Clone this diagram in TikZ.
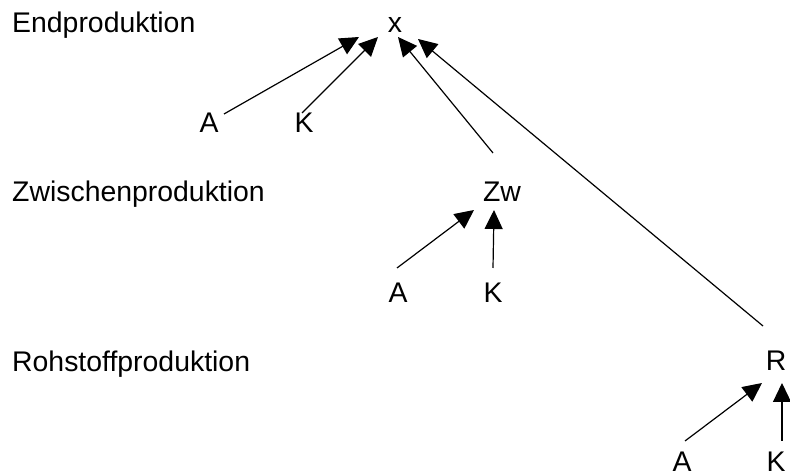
\documentclass[tikz,border=0pt]{standalone}
\usepackage{fontspec}
\setmainfont{Liberation Sans}
\usetikzlibrary{arrows.meta}
\begin{document}
\begin{tikzpicture}[x=1pt,y=1pt,
  lbl/.style={anchor=base,inner sep=0pt,font=\fontsize{28.4}{34}\selectfont},
  lvl/.style={anchor=base west,inner sep=0pt,font=\fontsize{28.4}{34}\selectfont},
  arr/.style={line width=1.2pt,-{Triangle[length=19pt,width=18pt]}}]
\useasboundingbox (0,0) rectangle (790,473);
% level labels
\node[lvl] (endp) at (12,440) {Endproduktion};
\node[lvl] (zwp)  at (12,271) {Zwischenproduktion};
\node[lvl] (rohp) at (12,101) {Rohstoffproduktion};
% nodes
\node[lbl] (x)  at (395,440) {x};
\node[lbl] (A1) at (209,340) {A};
\node[lbl] (K1) at (304,340) {K};
\node[lbl] (Zw) at (502,271) {Zw};
\node[lbl] (A2) at (398,170) {A};
\node[lbl] (K2) at (493,170) {K};
\node[lbl] (R)  at (776,102) {R};
\node[lbl] (A3) at (682,1) {A};
\node[lbl] (K3) at (776,1) {K};
% connectors
\draw[arr] ([shift={(15pt,19pt)}]A1.base) -- ([shift={(-36pt,-4pt)}]x.base);
\draw[arr] ([shift={(-2pt,20pt)}]K1.base) -- ([shift={(-17pt,-4pt)}]x.base);
\draw[arr] ([shift={(-9pt,49pt)}]Zw.base) -- ([shift={(3pt,-4pt)}]x.base);
\draw[arr] ([shift={(-13pt,45pt)}]R.base) -- ([shift={(23pt,-6pt)}]x.base);
\draw[arr] ([shift={(-1pt,35pt)}]A2.base) -- ([shift={(-28pt,-8pt)}]Zw.base);
\draw[arr] ([shift={(0pt,35pt)}]K2.base) -- ([shift={(-8pt,-8pt)}]Zw.base);
\draw[arr] ([shift={(3pt,31pt)}]A3.base) -- ([shift={(-14pt,-12pt)}]R.base);
\draw[arr] ([shift={(6pt,31pt)}]K3.base) -- ([shift={(6pt,-12pt)}]R.base);
\end{tikzpicture}
\end{document}
